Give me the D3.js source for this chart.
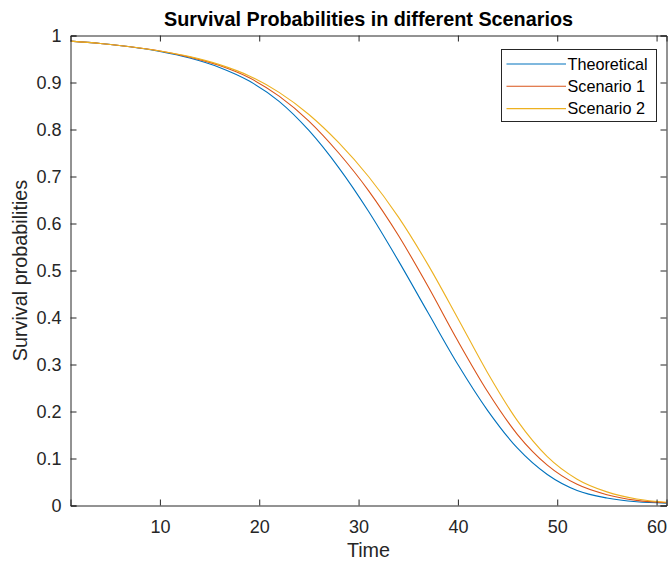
<!DOCTYPE html>
<html>
<head>
<meta charset="utf-8">
<script src="https://cdn.jsdelivr.net/npm/d3@7"></script>
<style>
  html, body { margin: 0; padding: 0; background: #ffffff; }
  svg { display: block; font-family: "Liberation Sans", Arial, Helvetica, sans-serif; }
</style>
</head>
<body>
<svg id="chart" width="670" height="565"></svg>
<script>
// Time points at which the survival curves are sampled
const times = [1, 4, 7, 10, 13, 16, 19, 22, 25, 28, 31, 34, 37, 40, 43, 46, 49, 52, 55, 58, 61];

// Survival probability for each scenario
const theoretical = [0.988, 0.983, 0.976, 0.966, 0.952, 0.932, 0.903, 0.860, 0.798, 0.719, 0.626,
                     0.521, 0.410, 0.300, 0.202, 0.122, 0.066, 0.032, 0.016, 0.008, 0.005];
const scenario1   = [0.988, 0.983, 0.976, 0.967, 0.954, 0.936, 0.910, 0.871, 0.818, 0.750, 0.670,
                     0.575, 0.466, 0.350, 0.242, 0.151, 0.086, 0.045, 0.023, 0.011, 0.006];
const scenario2   = [0.988, 0.983, 0.976, 0.967, 0.955, 0.938, 0.914, 0.879, 0.832, 0.772, 0.700,
                     0.614, 0.512, 0.398, 0.282, 0.180, 0.104, 0.056, 0.029, 0.014, 0.007];

const seriesNames  = ["Theoretical", "Scenario 1", "Scenario 2"];
const seriesColors = ["#0072BD", "#D95319", "#EDB120"];

const xTicks = [10, 20, 30, 40, 50, 60];
const yTicks = [0, 0.1, 0.2, 0.3, 0.4, 0.5, 0.6, 0.7, 0.8, 0.9, 1];

const titleText = "Survival Probabilities in different Scenarios";
const xLabel = "Time";
const yLabel = "Survival probabilities";

const svg = d3.select("#chart");
const plot = { left: 70.5, right: 666.5, top: 35.5, bottom: 505.5 };
const axisColor = "#262626";

const x = d3.scaleLinear().domain([1, 61]).range([plot.left, plot.right]);
const y = d3.scaleLinear().domain([0, 1]).range([plot.bottom, plot.top]);

const series = [theoretical, scenario1, scenario2].map((vals, i) => ({
  name: seriesNames[i],
  color: seriesColors[i],
  points: times.map((t, j) => [t, vals[j]])
}));

// Curves, clipped to the axes box
svg.append("clipPath").attr("id", "plotClip")
  .append("rect")
  .attr("x", plot.left).attr("y", plot.top)
  .attr("width", plot.right - plot.left).attr("height", plot.bottom - plot.top);

const line = d3.line()
  .x(d => x(d[0]))
  .y(d => y(d[1]))
  .curve(d3.curveMonotoneX);

svg.append("g").attr("clip-path", "url(#plotClip)")
  .selectAll("path")
  .data(series)
  .join("path")
  .attr("d", d => line(d.points))
  .attr("fill", "none")
  .attr("stroke", d => d.color)
  .attr("stroke-width", 1.1);

// Axes with inward ticks on all four sides
const tickLen = 6;
const fontTick = 18;

const bottomAxis = d3.axisBottom(x).tickValues(xTicks).tickSize(-tickLen).tickPadding(15);
const gx = svg.append("g").attr("transform", `translate(0,${plot.bottom})`).call(bottomAxis);

const topAxis = d3.axisTop(x).tickValues(xTicks).tickSize(-tickLen).tickFormat("");
const gxt = svg.append("g").attr("transform", `translate(0,${plot.top})`).call(topAxis);

const leftAxis = d3.axisLeft(y).tickValues(yTicks).tickSize(-tickLen).tickPadding(9)
  .tickFormat(d3.format("~g"));
const gy = svg.append("g").attr("transform", `translate(${plot.left},0)`).call(leftAxis);

const rightAxis = d3.axisRight(y).tickValues(yTicks).tickSize(-tickLen).tickFormat("");
const gyr = svg.append("g").attr("transform", `translate(${plot.right},0)`).call(rightAxis);

[gx, gxt, gy, gyr].forEach(g => {
  g.select(".domain").attr("stroke", axisColor).attr("stroke-width", 1);
  g.selectAll(".tick line").attr("stroke", axisColor).attr("stroke-width", 1);
  g.selectAll(".tick text")
    .attr("fill", axisColor)
    .style("font-size", fontTick + "px")
    .style("font-family", "'Liberation Sans', Arial, sans-serif");
});

// Title and axis labels
svg.append("text")
  .attr("x", (plot.left + plot.right) / 2)
  .attr("y", 26)
  .attr("text-anchor", "middle")
  .attr("fill", "#000")
  .style("font-size", "19.8px")
  .style("font-weight", "bold")
  .text(titleText);

svg.append("text")
  .attr("x", (plot.left + plot.right) / 2)
  .attr("y", 557)
  .attr("text-anchor", "middle")
  .attr("fill", axisColor)
  .style("font-size", "19.8px")
  .text(xLabel);

svg.append("text")
  .attr("transform", `translate(27,${(plot.top + plot.bottom) / 2}) rotate(-90)`)
  .attr("text-anchor", "middle")
  .attr("fill", axisColor)
  .style("font-size", "19.8px")
  .text(yLabel);

// Legend
const legend = { x: 501.5, y: 49.5, w: 155, h: 72, row: 22.3 };
const lg = svg.append("g");
lg.append("rect")
  .attr("x", legend.x).attr("y", legend.y)
  .attr("width", legend.w).attr("height", legend.h)
  .attr("fill", "#fff").attr("stroke", axisColor).attr("stroke-width", 1);

const items = lg.selectAll("g.item").data(series).join("g")
  .attr("class", "item")
  .attr("transform", (d, i) => `translate(${legend.x},${legend.y + 14.5 + i * legend.row})`);

items.append("line")
  .attr("x1", 5).attr("x2", 64.5)
  .attr("y1", 0).attr("y2", 0)
  .attr("stroke", d => d.color).attr("stroke-width", 1.1);

items.append("text")
  .attr("x", 66)
  .attr("y", 0)
  .attr("dy", "0.35em")
  .attr("fill", "#000")
  .style("font-size", "16.2px")
  .text(d => d.name);
</script>
</body>
</html>
